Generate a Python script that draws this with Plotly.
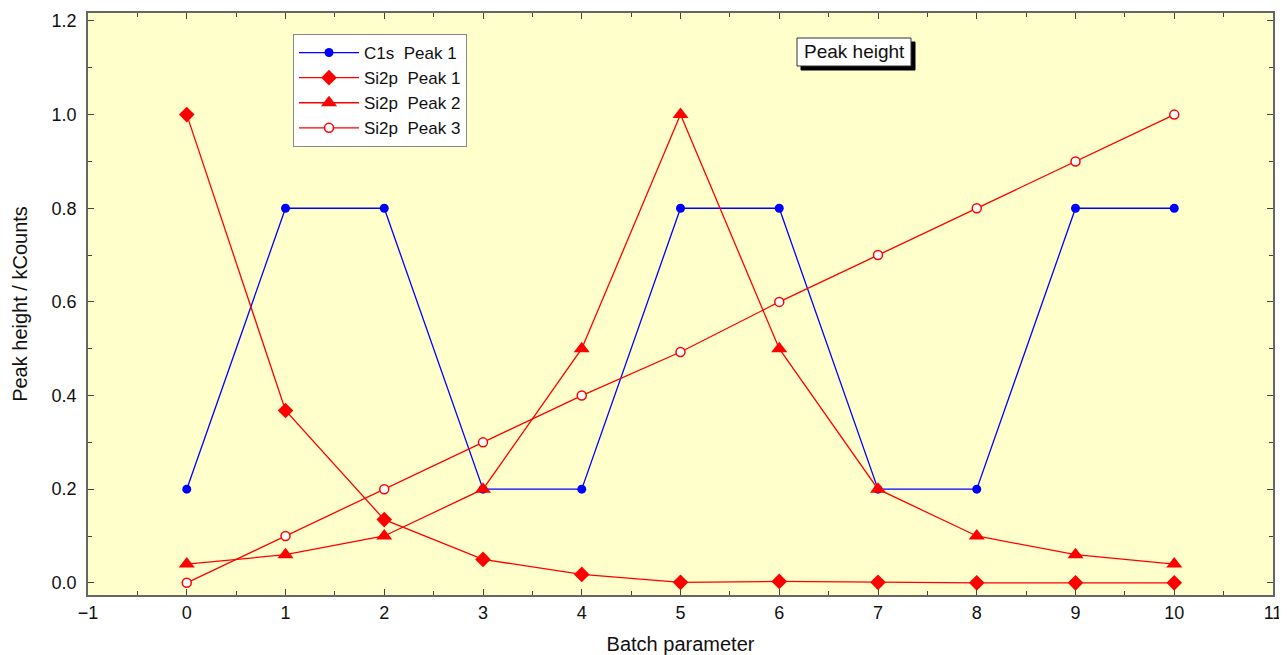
import plotly.graph_objects as go

batch = [0, 1, 2, 3, 4, 5, 6, 7, 8, 9, 10]
c1s_peak1 = [0.2, 0.8, 0.8, 0.2, 0.2, 0.8, 0.8, 0.2, 0.2, 0.8, 0.8]
si2p_peak1 = [1.0, 0.368, 0.135, 0.05, 0.018, 0.001, 0.003, 0.001, 0.0, 0.0, 0.0]
si2p_peak2 = [0.04, 0.06, 0.1, 0.2, 0.5, 1.0, 0.5, 0.2, 0.1, 0.06, 0.04]
si2p_peak3 = [0.0, 0.1, 0.2, 0.3, 0.4, 0.493, 0.6, 0.7, 0.8, 0.9, 1.0]

fig = go.Figure()
fig.add_trace(go.Scatter(x=batch, y=c1s_peak1, mode="lines+markers", name="C1s  Peak 1",
                         line=dict(color="#0000FF", width=1.3),
                         marker=dict(symbol="circle", size=9, color="#0000FF")))
fig.add_trace(go.Scatter(x=batch, y=si2p_peak1, mode="lines+markers", name="Si2p  Peak 1",
                         line=dict(color="#FF0000", width=1.3),
                         marker=dict(symbol="diamond", size=12, color="#FF0000")))
fig.add_trace(go.Scatter(x=batch, y=si2p_peak2, mode="lines+markers", name="Si2p  Peak 2",
                         line=dict(color="#FF0000", width=1.3),
                         marker=dict(symbol="triangle-up", size=14, color="#FF0000")))
fig.add_trace(go.Scatter(x=batch, y=si2p_peak3, mode="lines+markers", name="Si2p  Peak 3",
                         line=dict(color="#FF0000", width=1.3),
                         marker=dict(symbol="circle", size=9, color="white",
                                     line=dict(color="#FF0000", width=1.5))))

axis_common = dict(showline=True, linecolor="#666666", linewidth=1.5, mirror="ticks",
                   ticks="inside", ticklen=6, tickcolor="#444444", showgrid=False,
                   zeroline=False, automargin=False,
                   tickfont=dict(family="Arial", size=18, color="#111111"))

fig.update_xaxes(range=[-1, 11], dtick=1, tick0=-1,
                 minor=dict(dtick=0.5, ticks="inside", ticklen=4, tickcolor="#444444"),
                 title=dict(text="Batch parameter", font=dict(family="Arial", size=20, color="#111111"),
                            standoff=15),
                 ticklabelstandoff=1,
                 **axis_common)
fig.update_yaxes(range=[-0.026, 1.217], dtick=0.2, tick0=0, tickformat=".1f",
                 minor=dict(dtick=0.1, ticks="inside", ticklen=4, tickcolor="#444444"),
                 title=dict(text="Peak height / kCounts", font=dict(family="Arial", size=20, color="#111111"),
                            standoff=19),
                 ticklabelstandoff=6,
                 **axis_common)

# Screen-space plot area: x 88..1273, y 13..595 (page body adds 8px offset)
def px(sx):
    return (sx - 88) / 1185

def py(sy):
    return (595 - sy) / 582

# Title box with drop shadow
fig.add_shape(type="rect", xref="paper", yref="paper", x0=px(801), x1=px(915), y0=py(70), y1=py(42),
              fillcolor="black", line=dict(color="black", width=1))
fig.add_shape(type="rect", xref="paper", yref="paper", x0=px(797), x1=px(911), y0=py(66), y1=py(38),
              fillcolor="white", line=dict(color="#333333", width=1))
fig.add_annotation(xref="paper", yref="paper", x=px(854), y=py(52), xanchor="center", yanchor="middle",
                   text="Peak height", showarrow=False, font=dict(family="Arial", size=19, color="#111111"))

fig.update_layout(
    width=1287, height=655,
    margin=dict(l=80, r=22, t=5, b=68, autoexpand=False),
    paper_bgcolor="white", plot_bgcolor="#FFFFCC",
    font=dict(family="Arial", color="#111111"),
    legend=dict(x=px(293), y=py(34), xanchor="left", yanchor="top",
                bgcolor="white", bordercolor="#888888", borderwidth=1,
                font=dict(family="Arial", size=17, color="#111111"),
                tracegroupgap=0, itemwidth=60),
    showlegend=True,
)

fig.write_html("out.html")
